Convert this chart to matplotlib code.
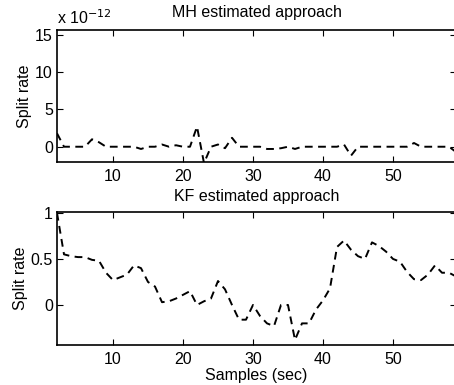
import matplotlib
matplotlib.use("Agg")
import matplotlib.pyplot as plt
from matplotlib.ticker import FormatStrFormatter

plt.rcParams['font.family'] = ['Liberation Sans', 'DejaVu Sans']
plt.rcParams['font.size'] = 11.5

# samples (sec)
samples = list(range(2, 60))

# MH estimated split rate, in units of 1e-12
mh_rate = [1.8, 0, 0, 0, 0, 1.0, 0.6, 0, 0, 0,
           0, 0, -0.3, 0, 0, 0.3, 0, 0.2, 0, 0,
           2.7, -2.2, 0, 0.3, -0.2, 1.2, 0, 0, 0, 0,
           -0.3, -0.3, -0.2, 0, -0.3, 0, 0, 0, 0, 0,
           0, 0.3, -1.2, 0, 0, 0, 0, 0, 0, 0,
           0, 0.5, 0, 0, 0, 0, 0, -0.7]

# KF estimated split rate
kf_rate = [1.0, 0.55, 0.53, 0.52, 0.52, 0.49, 0.48, 0.35, 0.27, 0.30,
           0.33, 0.43, 0.40, 0.25, 0.20, 0.03, 0.04, 0.07, 0.11, 0.15,
           0.0, 0.04, 0.07, 0.26, 0.17, 0.0, -0.16, -0.16, 0.0, -0.12,
           -0.20, -0.23, 0.0, 0.0, -0.38, -0.20, -0.20, -0.05, 0.05, 0.18,
           0.63, 0.70, 0.60, 0.53, 0.50, 0.68, 0.64, 0.58, 0.50, 0.47,
           0.36, 0.28, 0.27, 0.33, 0.43, 0.35, 0.35, 0.31]

fig = plt.figure(figsize=(4.54, 3.85), dpi=100)
ax1 = fig.add_axes([57 / 454, 1 - 162 / 385, 399 / 454, 132 / 385])
ax2 = fig.add_axes([57 / 454, 1 - 345 / 385, 399 / 454, 133 / 385])

dash = (0, (4, 2.8))

ax1.plot(samples, mh_rate, color='k', linestyle=dash, linewidth=1.4)
ax1.set_xlim(2, 59)
ax1.set_ylim(-2.05, 15.67)
ax1.set_yticks([0, 5, 10, 15])
ax1.set_xticks([10, 20, 30, 40, 50])
ax1.set_ylabel('Split rate', labelpad=2)
ax1.set_title('MH estimated approach', fontsize=11.5, pad=9)
ax1.text(0.0, 1.025, r'x 10$^{-12}$', transform=ax1.transAxes,
         ha='left', va='bottom', fontsize=11.5)

ax2.plot(samples, kf_rate, color='k', linestyle=dash, linewidth=1.4)
ax2.set_xlim(2, 59)
ax2.set_ylim(-0.435, 1.01)
ax2.set_yticks([0, 0.5, 1])
ax2.yaxis.set_major_formatter(FormatStrFormatter('%g'))
ax2.set_xticks([10, 20, 30, 40, 50])
ax2.set_ylabel('Split rate', labelpad=2)
ax2.set_xlabel('Samples (sec)', labelpad=1)
ax2.set_title('KF estimated approach', fontsize=11.5, pad=8)

for ax in (ax1, ax2):
    ax.tick_params(direction='in', top=True, right=True, length=4, width=0.8)
    ax.tick_params(axis='x', pad=5)
    ax.tick_params(axis='y', pad=3)
    for s in ax.spines.values():
        s.set_linewidth(1.2)

fig.savefig('out.png', dpi=100)
